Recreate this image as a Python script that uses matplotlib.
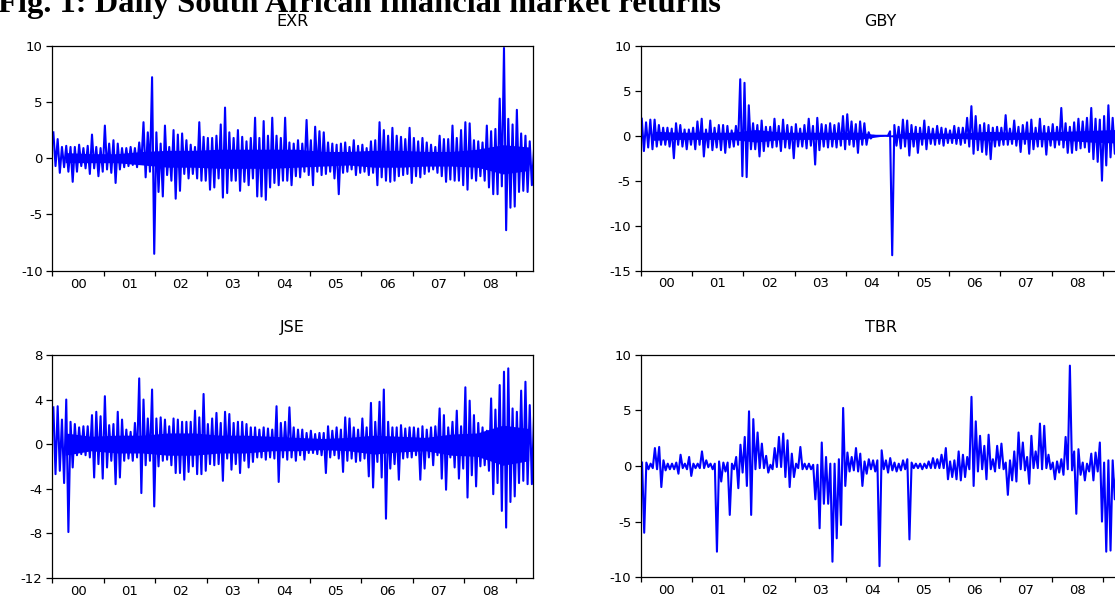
import numpy as np
import matplotlib
matplotlib.use("Agg")
import matplotlib.pyplot as plt

# figure size in pixels (dpi 100)
W, H = 1115, 599

year_labels = ['00', '01', '02', '03', '04', '05', '06', '07', '08']

# monthly high / low of the daily returns, Jan 2000 .. May 2009
exr_hi = [2.3, 1.7, 1.0, 1.1, 1.0, 1.0, 1.2, 0.9, 1.1, 2.1, 1.0, 0.9,
          2.9, 1.3, 1.6, 1.3, 0.9, 0.9, 1.0, 0.9, 1.4, 3.2, 2.3, 7.2,
          2.3, 1.3, 2.9, 1.0, 2.5, 2.1, 2.2, 1.6, 1.2, 1.0, 3.2, 1.9,
          1.8, 1.8, 2.0, 3.0, 4.5, 2.3, 1.8, 2.5, 1.9, 1.5, 1.8, 3.6,
          1.8, 3.3, 2.0, 3.6, 2.0, 1.8, 3.6, 1.4, 1.3, 1.6, 1.3, 3.4,
          1.6, 2.8, 2.4, 2.3, 1.4, 1.3, 1.2, 1.3, 1.4, 1.0, 1.6, 1.1,
          1.2, 0.9, 1.5, 1.6, 3.2, 2.5, 2.0, 2.7, 2.0, 1.9, 1.7, 2.7,
          1.8, 1.5, 1.8, 1.4, 1.2, 1.0, 2.0, 1.7, 1.7, 2.9, 1.8, 2.5,
          3.2, 3.1, 1.6, 1.5, 1.4, 2.9, 2.4, 2.6, 5.3, 9.8, 3.5, 3.0,
          4.3, 2.2, 2.0, 1.5, 0.8]
exr_lo = [-0.7, -1.3, -0.8, -1.2, -2.1, -1.2, -0.7, -0.9, -1.4, -0.9, -1.6, -1.2,
          -1.0, -1.3, -2.2, -1.0, -0.8, -0.7, -0.6, -0.8, -0.5, -1.7, -1.2, -8.5,
          -3.0, -3.4, -1.5, -2.0, -3.6, -2.9, -1.4, -1.8, -1.4, -1.8, -2.0, -2.0,
          -2.8, -2.6, -1.8, -3.5, -3.1, -2.0, -2.0, -2.9, -2.1, -2.4, -1.8, -3.4,
          -3.4, -3.7, -2.6, -2.2, -2.4, -2.0, -2.0, -2.4, -1.6, -1.7, -1.2, -1.5,
          -2.4, -1.2, -1.5, -1.4, -1.2, -1.8, -3.2, -1.3, -1.2, -1.0, -1.5, -1.3,
          -1.2, -1.5, -1.3, -2.4, -1.7, -2.0, -2.1, -2.0, -1.6, -1.5, -1.4, -2.2,
          -1.6, -1.7, -1.4, -1.2, -1.0, -1.3, -1.6, -2.1, -1.9, -2.0, -2.0, -2.4,
          -2.8, -1.8, -2.0, -1.6, -2.0, -2.6, -3.2, -3.2, -2.5, -6.4, -4.4, -4.3,
          -3.0, -2.9, -3.0, -2.4, -1.6]

gby_hi = [1.9, 1.5, 1.8, 1.8, 1.2, 0.9, 0.9, 0.8, 1.4, 1.2, 0.7, 0.7,
          0.9, 1.6, 1.9, 0.7, 1.7, 0.9, 1.2, 1.2, 1.1, 0.6, 1.1, 6.3,
          5.9, 3.4, 1.4, 1.2, 1.7, 1.0, 1.0, 1.9, 1.1, 1.8, 1.2, 1.0,
          1.3, 0.8, 1.2, 1.9, 1.1, 2.0, 1.3, 1.2, 1.4, 1.2, 1.4, 2.2,
          2.4, 1.6, 1.3, 1.6, 1.4, 0.4, 0.0, 0.0, 0.0, 0.0, 0.5, 1.2,
          1.0, 1.8, 1.7, 1.2, 1.0, 0.9, 1.7, 1.0, 0.8, 1.1, 0.9, 0.8,
          0.6, 1.1, 0.9, 0.9, 2.0, 3.3, 2.2, 1.2, 1.4, 1.2, 0.9, 1.0,
          0.9, 2.3, 0.8, 1.7, 1.0, 1.2, 1.5, 1.8, 0.9, 1.9, 1.1, 1.0,
          1.3, 1.0, 3.1, 1.4, 1.0, 1.5, 1.9, 1.6, 2.0, 3.1, 1.9, 1.8,
          2.2, 3.4, 2.0, 2.0, 1.0]
gby_lo = [-1.7, -1.3, -1.5, -1.2, -1.0, -1.0, -1.2, -2.5, -1.0, -1.2, -1.5, -1.0,
          -1.5, -1.0, -2.3, -1.3, -1.6, -1.3, -1.6, -1.9, -1.3, -1.2, -1.0, -4.5,
          -4.6, -1.5, -1.5, -2.3, -1.7, -1.2, -1.3, -1.2, -1.7, -1.3, -1.4, -2.5,
          -1.2, -1.2, -1.4, -1.1, -3.2, -1.6, -1.2, -1.3, -1.2, -1.3, -1.1, -1.5,
          -1.0, -1.2, -1.9, -1.0, -1.0, -0.3, 0.0, 0.0, 0.0, 0.0, -13.3, -1.1,
          -1.4, -1.2, -2.2, -1.2, -1.9, -1.0, -1.5, -0.9, -1.0, -0.9, -1.1, -0.8,
          -0.8, -0.9, -1.0, -0.8, -1.2, -2.0, -1.6, -1.8, -2.1, -2.6, -1.2, -1.1,
          -1.0, -1.0, -0.9, -1.1, -1.8, -0.9, -2.0, -1.5, -1.2, -1.2, -2.1, -1.1,
          -1.3, -1.0, -1.3, -1.9, -1.9, -1.6, -1.4, -1.3, -1.8, -2.6, -2.9, -5.0,
          -3.3, -2.4, -2.0, -2.0, -1.0]

jse_hi = [3.3, 3.4, 2.2, 4.0, 2.0, 1.8, 1.5, 1.6, 1.6, 2.6, 2.9, 2.5,
          4.3, 1.7, 1.8, 2.9, 2.2, 1.3, 1.1, 1.9, 5.9, 4.0, 2.3, 4.9,
          2.3, 2.4, 2.2, 1.6, 2.3, 2.2, 2.0, 2.0, 2.0, 3.0, 2.4, 4.5,
          1.8, 2.3, 2.8, 1.9, 2.9, 2.7, 1.9, 2.0, 2.0, 1.8, 1.5, 1.5,
          1.3, 1.5, 1.4, 1.3, 3.4, 1.9, 2.0, 3.3, 1.5, 1.3, 1.3, 1.0,
          1.2, 0.9, 1.0, 1.0, 1.6, 1.2, 1.5, 1.3, 2.4, 2.3, 1.5, 1.3,
          2.3, 1.5, 3.7, 2.0, 3.8, 4.9, 2.0, 1.5, 1.5, 1.7, 1.4, 1.5,
          1.5, 1.4, 1.6, 1.3, 1.5, 1.6, 3.2, 2.6, 1.5, 2.0, 3.0, 1.6,
          5.1, 3.9, 2.6, 1.9, 1.5, 1.2, 4.1, 3.1, 5.3, 6.5, 6.8, 3.2,
          2.9, 4.8, 5.6, 3.5, 2.5]
jse_lo = [-2.7, -2.4, -3.5, -7.9, -2.1, -1.0, -0.9, -1.0, -1.2, -3.0, -1.8, -3.1,
          -2.1, -1.5, -3.6, -3.0, -1.5, -1.3, -1.5, -1.2, -4.4, -1.9, -1.5, -5.6,
          -2.0, -1.5, -1.4, -1.9, -2.6, -2.6, -3.2, -2.5, -2.0, -2.7, -2.7, -2.4,
          -1.8, -1.9, -1.8, -3.3, -1.3, -2.3, -1.8, -2.6, -1.5, -2.1, -1.6, -1.2,
          -1.2, -1.4, -1.2, -1.3, -3.4, -1.2, -1.4, -1.2, -1.5, -1.0, -1.4, -0.8,
          -0.8, -0.9, -1.0, -2.6, -1.2, -1.0, -1.3, -2.5, -1.5, -1.3, -1.6, -1.5,
          -1.3, -2.9, -3.9, -1.6, -3.0, -6.7, -2.2, -1.8, -3.2, -1.3, -1.2, -1.2,
          -1.0, -3.2, -2.2, -1.2, -1.9, -1.0, -3.1, -4.1, -1.2, -2.1, -3.1, -2.2,
          -4.8, -2.8, -3.8, -2.0, -1.9, -2.4, -4.5, -3.5, -6.0, -7.5, -5.2, -4.7,
          -3.5, -3.3, -3.6, -3.6, -2.0]

tbr_hi = [0.3, 0.3, 0.2, 1.6, 1.7, 0.5, 0.2, 0.2, 0.3, 1.0, 0.2, 0.8,
          0.2, 0.2, 1.3, 0.5, 0.2, 0.2, 0.4, 0.3, 0.3, 0.2, 0.8, 1.9,
          2.6, 4.9, 4.2, 3.0, 2.0, 0.9, 0.1, 1.6, 2.6, 2.9, 2.3, 1.1,
          0.2, 1.7, 0.2, 0.2, 0.1, 0.1, 2.1, 0.8, 0.2, 0.2, 0.6, 5.2,
          1.2, 0.8, 1.6, 1.1, 0.4, 0.6, 0.5, 0.5, 1.4, 0.5, 0.7, 0.3,
          0.2, 0.5, 0.6, 0.3, 0.2, 0.2, 0.2, 0.4, 0.7, 0.6, 1.0, 1.6,
          0.4, 0.5, 1.3, 1.0, 0.8, 6.2, 4.0, 2.7, 1.8, 2.8, 0.6, 1.8,
          2.0, 0.3, 0.5, 1.3, 3.0, 2.1, 0.8, 2.7, 1.3, 3.8, 3.6, 1.0,
          0.3, 0.4, 0.6, 2.6, 9.0, 1.3, 1.5, 0.3, 0.2, 1.1, 1.2, 2.1,
          0.3, 0.5, 0.5, 0.5, 0.3]
tbr_lo = [-6.0, -0.3, -0.2, -0.3, -1.9, -0.4, -0.3, -0.3, -0.7, -0.2, -0.3, -0.9,
          -0.2, -0.2, -0.2, -0.1, -0.3, -7.7, -1.4, -0.5, -4.4, -0.3, -2.0, -0.6,
          -1.8, -4.4, -0.3, -0.2, -0.2, -0.6, -0.3, -0.1, -0.1, -1.0, -1.9, -1.0,
          -0.2, -0.3, -0.3, -0.3, -3.0, -5.6, -3.4, -3.4, -8.6, -6.5, -5.3, -1.8,
          -0.5, -0.4, -0.5, -1.8, -0.7, -0.3, -0.5, -9.0, -0.3, -0.6, -0.4, -0.5,
          -0.4, -0.3, -6.6, -0.2, -0.2, -0.3, -0.2, -0.2, -0.2, -0.2, -0.2, -1.2,
          -1.0, -1.2, -1.3, -1.0, -0.3, -1.8, -0.5, -0.3, -1.2, -0.3, -0.5, -0.2,
          -0.3, -2.6, -1.3, -1.4, -0.3, -0.4, -1.6, -0.2, -0.2, -0.3, -0.2, -0.3,
          -1.2, -0.6, -0.8, -0.3, -0.4, -4.3, -0.8, -1.3, -0.5, -1.3, -0.5, -5.0,
          -7.7, -7.6, -3.0, -2.0, -0.5]

# solid core of each band at half-year centres 2000H1 .. 2009H1
exr_core_hi = [0.5, 0.4, 0.4, 0.6, 0.7, 0.7, 0.8, 0.8, 0.8, 0.8, 0.6, 0.6, 0.7, 0.7, 0.6, 0.6, 0.8, 1.2, 1.0]
exr_core_lo = [-0.4, -0.4, -0.4, -0.6, -0.8, -0.8, -0.9, -0.9, -0.9, -0.8, -0.7, -0.6, -0.8, -0.8, -0.7, -0.7, -0.8, -1.4, -1.1]
gby_core_hi = [0.5, 0.4, 0.4, 0.4, 0.7, 0.4, 0.4, 0.4, 0.4, 0.0, 0.4, 0.3, 0.3, 0.5, 0.4, 0.4, 0.5, 0.6, 0.7]
gby_core_lo = [-0.5, -0.4, -0.4, -0.4, -0.7, -0.4, -0.4, -0.4, -0.4, 0.0, -0.4, -0.3, -0.3, -0.5, -0.4, -0.4, -0.5, -0.7, -0.8]
jse_core_hi = [1.0, 0.7, 0.8, 0.8, 1.0, 1.0, 0.8, 0.8, 0.7, 0.6, 0.5, 0.6, 0.8, 0.7, 0.6, 0.9, 1.0, 1.7, 1.4]
jse_core_lo = [-1.0, -0.6, -0.8, -0.8, -1.0, -1.0, -0.8, -0.8, -0.6, -0.6, -0.5, -0.6, -0.9, -0.7, -0.6, -1.0, -1.1, -1.9, -1.5]

BLUE = '#0000ff'


def px_box(left, top, right, bottom):
    # pixel box -> figure fraction [l, b, w, h]
    return [left / W, 1 - bottom / H, (right - left) / W, (bottom - top) / H]


def zigzag(hi, lo):
    # alternate high and low of each month so the line fills the band like daily data
    t = 2000 + np.arange(len(hi)) / 12
    x = np.column_stack([t + 0.25 / 12, t + 0.75 / 12]).ravel()
    y = np.column_stack([hi, lo]).ravel()
    return x, y


def draw_panel(box, title, hi, lo, yticks, title_y, core=None):
    ax = fig.add_axes(px_box(*box))
    if core is not None:
        c_hi, c_lo = core
        t = 2000.25 + 0.5 * np.arange(len(c_hi))
        ax.fill_between(t, c_hi, c_lo, color=BLUE, lw=0)
    x, y = zigzag(hi, lo)
    ax.plot(x, y, color=BLUE, lw=1.5)

    ax.set_xlim(2000, 2009.34)
    ax.set_ylim(yticks[0], yticks[-1])

    ax.set_xticks(range(2000, 2010))
    ax.set_xticklabels([])
    ax.set_xticks([2000.5 + i for i in range(9)], minor=True)
    ax.set_xticklabels(year_labels, minor=True)
    ax.tick_params(axis='x', which='major', direction='out', length=3.5, width=0.9)
    ax.tick_params(axis='x', which='minor', length=0, pad=5, labelsize=9.5)

    ax.set_yticks(yticks)
    ax.set_yticklabels([str(v) for v in yticks])
    ax.tick_params(axis='y', direction='out', length=4, width=0.9, pad=3, labelsize=9.5)

    for s in ax.spines.values():
        s.set_linewidth(0.9)

    cx = (box[0] + box[2]) / 2
    fig.text(cx / W, 1 - title_y / H, title, ha='center', va='center', fontsize=11.5)
    return ax


plt.rcParams['font.family'] = ['DejaVu Sans']

fig = plt.figure(figsize=(W / 100, H / 100), dpi=100)

fig.text(-0.002, 1 - 12 / H, 'Fig. 1: Daily South African financial market returns',
         ha='left', va='baseline', fontsize=23.4, fontweight='bold', family='Liberation Serif')

draw_panel((52.3, 45.7, 533.3, 270.7), 'EXR', exr_hi, exr_lo, [-10, -5, 0, 5, 10], 21,
           core=(exr_core_hi, exr_core_lo))
draw_panel((640.7, 46.0, 1120.5, 270.5), 'GBY', gby_hi, gby_lo, [-15, -10, -5, 0, 5, 10], 21,
           core=(gby_core_hi, gby_core_lo))
draw_panel((52.3, 355.0, 533.3, 577.7), 'JSE', jse_hi, jse_lo, [-12, -8, -4, 0, 4, 8], 327.5,
           core=(jse_core_hi, jse_core_lo))
draw_panel((641.0, 354.5, 1120.5, 577.3), 'TBR', tbr_hi, tbr_lo, [-10, -5, 0, 5, 10], 327.5)

fig.savefig('out.png', dpi=100)
